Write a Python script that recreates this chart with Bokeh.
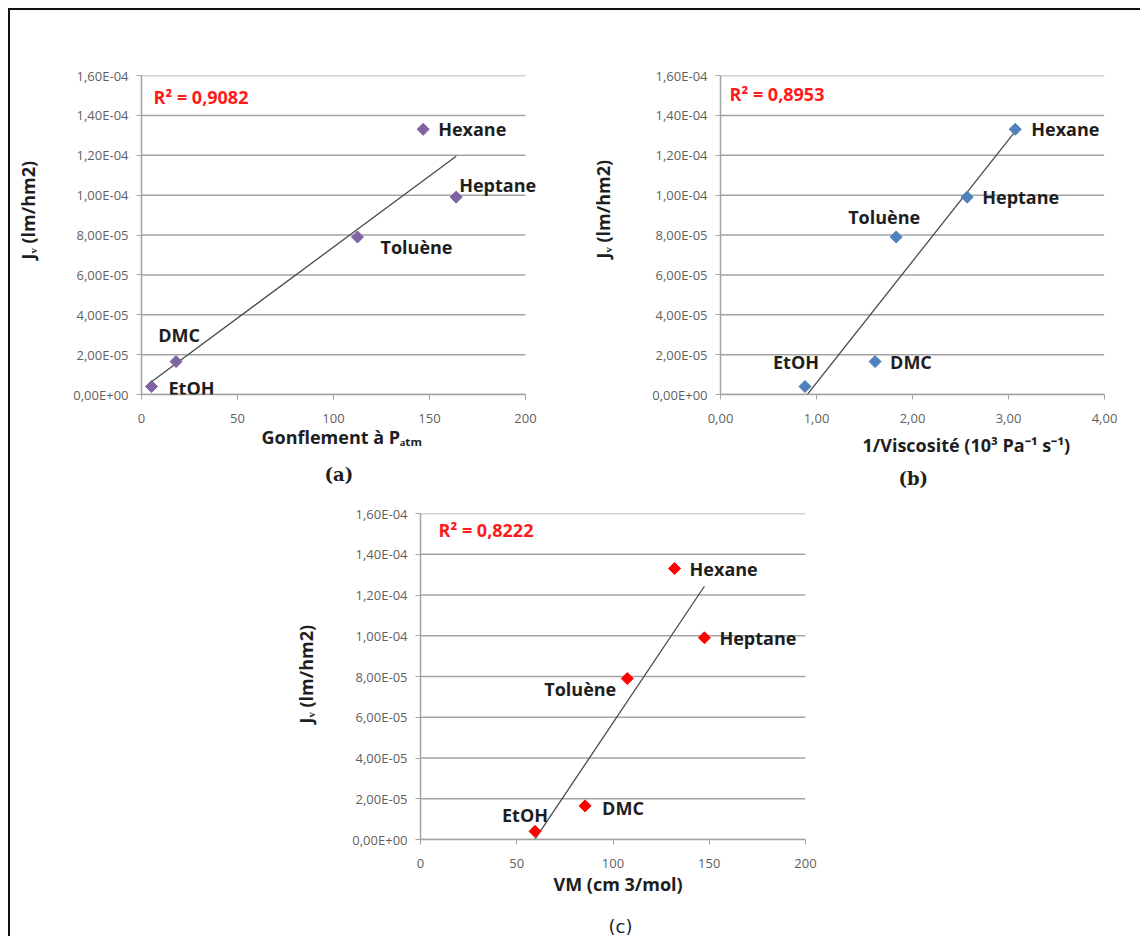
import math
import numpy as np
from bokeh.plotting import figure
from bokeh.layouts import column, row
from bokeh.models import Range1d, FixedTicker, CustomJSTickFormatter, Label, Spacer, Title
from bokeh.embed import file_html
from bokeh.resources import INLINE

# ---------------- data ----------------
solvents = ["EtOH", "DMC", "Toluène", "Hexane", "Heptane"]
jv = [0.40e-5, 1.65e-5, 7.90e-5, 13.3e-5, 9.9e-5]          # Jv (lm/hm2)
gonflement = [5.2, 18.0, 112.5, 146.7, 163.9]             # Gonflement à Patm
inv_viscosite = [0.88, 1.61, 1.83, 3.07, 2.57]            # 1/Viscosité (10^3 Pa-1 s-1)
vm = [59.5, 85.5, 107.4, 132.0, 147.5]                    # VM (cm3/mol)
r2_texts = ["R² = 0,9082", "R² = 0,8953", "R² = 0,8222"]

y_ticks = [0.0, 2e-5, 4e-5, 6e-5, 8e-5, 1e-4, 1.2e-4, 1.4e-4, 1.6e-4]
y_tick_labels = ["0,00E+00", "2,00E-05", "4,00E-05", "6,00E-05", "8,00E-05",
                 "1,00E-04", "1,20E-04", "1,40E-04", "1,60E-04"]
x_ticks_a = [0, 50, 100, 150, 200]
x_tick_labels_a = ["0", "50", "100", "150", "200"]
x_ticks_b = [0, 1, 2, 3, 4]
x_tick_labels_b = ["0,00", "1,00", "2,00", "3,00", "4,00"]
x_ticks_c = [0, 50, 100, 150, 200]
x_tick_labels_c = ["0", "50", "100", "150", "200"]

y_title = "Jᵥ (lm/hm2)"
x_titles = ["Gonflement à Pₐₜₘ", "1/Viscosité (10³ Pa⁻¹ s⁻¹)", "VM (cm 3/mol)"]
panel_tags = ["(a)", "(b)", "(c)"]

# ---------------- styling ----------------
FONT = "Open Sans"
GRID = "#a3a3a3"
TEXT = "#1e1e1e"
TICK_TEXT = "#5f5f5f"
NBSP = "\u00a0"

# label offsets (px) per solvent: dx, dy, align
offs_a = {"EtOH": (17, -1, "left"), "DMC": (3, 27, "center"), "Toluène": (23, -10, "left"),
          "Hexane": (15, 0, "left"), "Heptane": (3, 12, "left")}
offs_b = {"EtOH": (-9, 25, "center"), "DMC": (15, 0, "left"), "Toluène": (-12, 20, "center"),
          "Hexane": (16, 0, "left"), "Heptane": (15, 0, "left")}
offs_c = {"EtOH": (-10, 16, "center"), "DMC": (17, -2, "left"), "Toluène": (-11, -10, "right"),
          "Hexane": (15, 0, "left"), "Heptane": (15, 0, "left")}


def fmt(tv, tl):
    return CustomJSTickFormatter(args=dict(tvals=tv, tlabels=tl), code="""
        const i = tvals.findIndex((t) => Math.abs(t - tick) <= 1e-9 * Math.max(1, Math.abs(t)));
        return i >= 0 ? tlabels[i] : "";
    """)


def panel(xs, xr, xticks, xlabels, color, offs, r2, r2_off, geo):
    (w, h, bl, br, bt, bb) = geo
    p = figure(width=w, height=h, output_backend="svg", toolbar_location=None,
               x_range=Range1d(xr[0], xr[1]), y_range=Range1d(y_ticks[0], y_ticks[-1]),
               min_border_left=bl, min_border_right=br, min_border_top=bt, min_border_bottom=bb)
    p.outline_line_color = None
    p.background_fill_color = "white"
    p.border_fill_color = "white"
    p.xgrid.visible = False
    p.ygrid.visible = False
    # horizontal gridlines across the tick span only
    p.segment(x0=[xticks[0]] * len(y_ticks), y0=y_ticks, x1=[xticks[-1]] * len(y_ticks), y1=y_ticks,
              line_color=GRID, line_width=1.5)

    p.xaxis.ticker = FixedTicker(ticks=xticks)
    p.xaxis.formatter = fmt(xticks, xlabels)
    p.xaxis.bounds = (xticks[0], xticks[-1])
    p.yaxis.ticker = FixedTicker(ticks=y_ticks)
    p.yaxis.formatter = fmt(y_ticks, y_tick_labels)
    for ax in (p.xaxis, p.yaxis):
        ax.axis_line_color = GRID
        ax.axis_line_width = 1.5
        ax.major_tick_line_color = GRID
        ax.major_tick_out = 5
        ax.major_tick_in = 0
        ax.minor_tick_line_color = None
        ax.major_label_text_font = FONT
        ax.major_label_text_font_size = "13px"
        ax.major_label_text_color = TICK_TEXT
    p.xaxis.major_label_standoff = 14
    p.yaxis.major_label_standoff = 8

    # trendline (least squares over the data range)
    k, b0 = np.polyfit(xs, jv, 1)
    xf = [min(xs), max(xs)]
    p.line(xf, [k * v + b0 for v in xf], line_color="#4a4a4a", line_width=1.3)

    p.scatter(xs, jv, marker="square", size=8.5, angle=math.pi / 4,
              fill_color=color, line_color=color)

    for name, xv, yv in zip(solvents, xs, jv):
        dx, dy, al = offs[name]
        p.add_layout(Label(x=xv, y=yv, text=name, x_offset=dx, y_offset=dy,
                           text_align=al, text_baseline="middle", text_font=FONT,
                           text_font_style="bold", text_font_size="18px", text_color=TEXT))

    p.add_layout(Label(x=xr[0], y=y_ticks[-1], text=r2, x_offset=r2_off[0], y_offset=r2_off[1],
                       text_align="left", text_baseline="middle", text_font=FONT,
                       text_font_style="bold", text_font_size="18px", text_color="#ff1a1a"))
    return p


def titles(p, y_gap, y_off, xt, x_off, x_standoff, mid_gap, tag, tag_font, tag_style,
           tag_off, tag_standoff):
    # invisible axis label used only as a one-sided gap before the y title
    p.yaxis.axis_label = NBSP
    p.yaxis.axis_label_text_font_size = "1px"
    p.yaxis.axis_label_standoff = y_gap
    p.add_layout(Title(text=y_title, align="left", offset=y_off, standoff=0,
                       text_font=FONT, text_font_style="bold", text_font_size="18px",
                       text_color=TEXT), "left")
    p.add_layout(Title(text=xt, align="left", offset=x_off, standoff=x_standoff,
                       text_font=FONT, text_font_style="bold", text_font_size="18px",
                       text_color=TEXT), "below")
    if mid_gap is not None:
        p.add_layout(Title(text=NBSP, standoff=mid_gap, text_font_size="1px"), "below")
    p.add_layout(Title(text=tag, align="left", offset=tag_off, standoff=tag_standoff,
                       text_font=tag_font, text_font_style=tag_style, text_font_size="18px",
                       text_color=TEXT), "below")


# (a)  x range padded on the right so the "Heptane" label is not clipped
pa = panel(gonflement, (0, 207.8125), x_ticks_a, x_tick_labels_a, "#8064a2", offs_a,
           r2_texts[0], (12, -21), (570, 492, 131, 40, 65, 107))
titles(pa, 27, 135, x_titles[0], 120, -6, None, panel_tags[0], "DejaVu Serif", "bold", 183, 33)

# (b)
pb = panel(inv_viscosite, (0, 4), x_ticks_b, x_tick_labels_b, "#4f81bd", offs_b,
           r2_texts[1], (9, -18), (560, 492, 140, 36, 63, 108))
titles(pb, 31, 136, x_titles[1], 142, 10, None, panel_tags[1], "DejaVu Serif", "bold", 178, 9)

# (c)
pc = panel(vm, (0, 200), x_ticks_c, x_tick_labels_c, "#ff0000", offs_c,
           r2_texts[2], (18, -16), (615, 434, 130, 100, 11, 97))
titles(pc, 28, 116, x_titles[2], 133, -2, 17, panel_tags[2], "DejaVu Sans", "normal", 188, -2)

layout = column(row(pa, pb), row(Spacer(width=280, height=434), pc), margin=(8, 0, 0, 8),
                styles={"border-top": "2px solid #111", "border-left": "2px solid #111"})

open("out.html", "w").write(file_html(layout, INLINE))
